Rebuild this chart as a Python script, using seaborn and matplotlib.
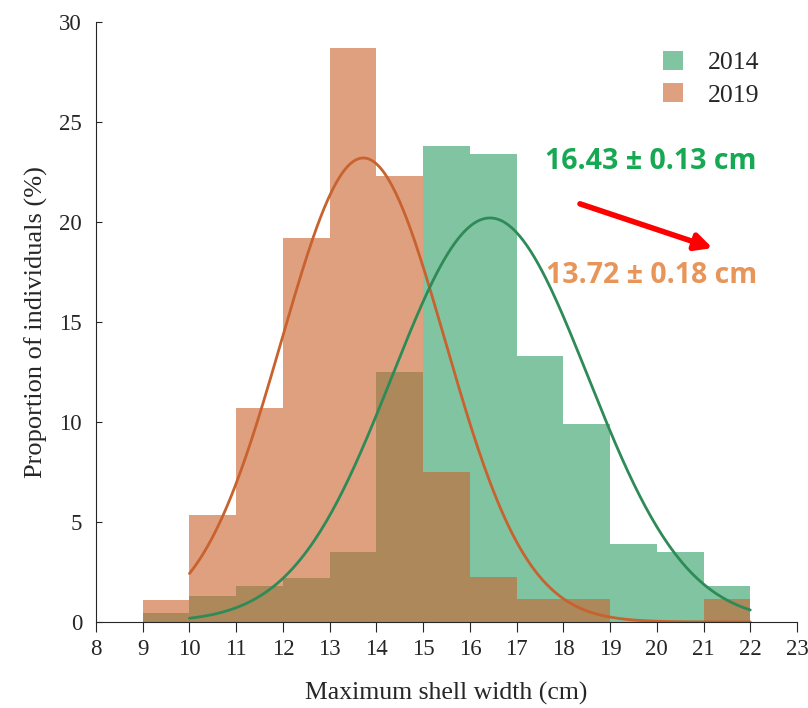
import numpy as np
import pandas as pd
import matplotlib
matplotlib.use("Agg")
import matplotlib.pyplot as plt
import seaborn as sns

# bin edges (cm) and proportion of individuals per bin (%)
bin_edges = list(range(9, 23))
pct_2014 = [0.45, 1.3, 1.8, 2.2, 3.5, 12.5, 23.8, 23.4, 13.3, 9.9, 3.9, 3.5, 1.8]
pct_2019 = [1.1, 5.35, 10.7, 19.2, 28.7, 22.3, 7.5, 2.25, 1.15, 1.15, 0.0, 0.0, 1.15]

# fitted normal curves: mean, sd, peak height (%)
fit_2014 = dict(mean=16.43, sd=2.1, peak=20.2)
fit_2019 = dict(mean=13.72, sd=1.75, peak=23.2)

label_2014 = "16.43 ± 0.13 cm"
label_2019 = "13.72 ± 0.18 cm"

green_fill = "#2B9D62"
orange_fill = "#CB612B"
green_line = "#2E8B57"
orange_line = "#C8622E"

sns.set_style("ticks")
plt.rcParams["font.family"] = ["Liberation Serif", "DejaVu Serif"]

fig = plt.figure(figsize=(8.08, 7.08), dpi=100)
ax = fig.add_axes([0.1188, 0.1215, 0.8676, 0.8475])

centers = [e + 0.5 for e in bin_edges[:-1]]
df14 = pd.DataFrame({"width": centers, "pct": pct_2014})
df19 = pd.DataFrame({"width": centers, "pct": pct_2019})
sns.histplot(data=df14, x="width", weights="pct", bins=bin_edges, color=green_fill,
             alpha=0.6, linewidth=0, ax=ax, label="2014")
sns.histplot(data=df19, x="width", weights="pct", bins=bin_edges, color=orange_fill,
             alpha=0.6, linewidth=0, ax=ax, label="2019")

xs = np.linspace(10, 22, 300)
for fit, col in [(fit_2019, orange_line), (fit_2014, green_line)]:
    ys = fit["peak"] * np.exp(-(xs - fit["mean"]) ** 2 / (2 * fit["sd"] ** 2))
    sns.lineplot(x=xs, y=ys, color=col, linewidth=2, ax=ax)

ax.set_xlim(8, 23)
ax.set_ylim(0, 30)
ax.set_xticks(range(8, 24))
ax.set_yticks(range(0, 31, 5))
ax.tick_params(axis="x", direction="out", length=7, labelsize=16.5, width=0.8, pad=5)
ax.tick_params(axis="y", direction="in", length=4, labelsize=16.5, width=0.8, pad=10)
ax.set_xlabel("Maximum shell width (cm)", fontsize=18.5, labelpad=16)
ax.set_ylabel("Proportion of individuals (%)", fontsize=19, labelpad=8)
sns.despine(ax=ax)

ax.legend(loc="upper right", frameon=False, fontsize=18.5,
          handlelength=0.75, handleheight=0.75, handletextpad=1.0,
          labelspacing=0.35, bbox_to_anchor=(0.98, 0.99))

ax.text(19.88, 23.0, label_2014, color="#17A853", fontsize=20.5, fontweight="bold",
        family=["Open Sans", "DejaVu Sans"], ha="center", va="center")
ax.text(19.88, 17.3, label_2019, color="#E8955A", fontsize=20.5, fontweight="bold",
        family=["Open Sans", "DejaVu Sans"], ha="center", va="center")
ax.annotate("", xy=(21.25, 18.65), xytext=(18.3, 20.95),
            arrowprops=dict(arrowstyle="-|>,head_length=1.0,head_width=0.5",
                            color="red", lw=4))

fig.savefig("out.png", dpi=100)
